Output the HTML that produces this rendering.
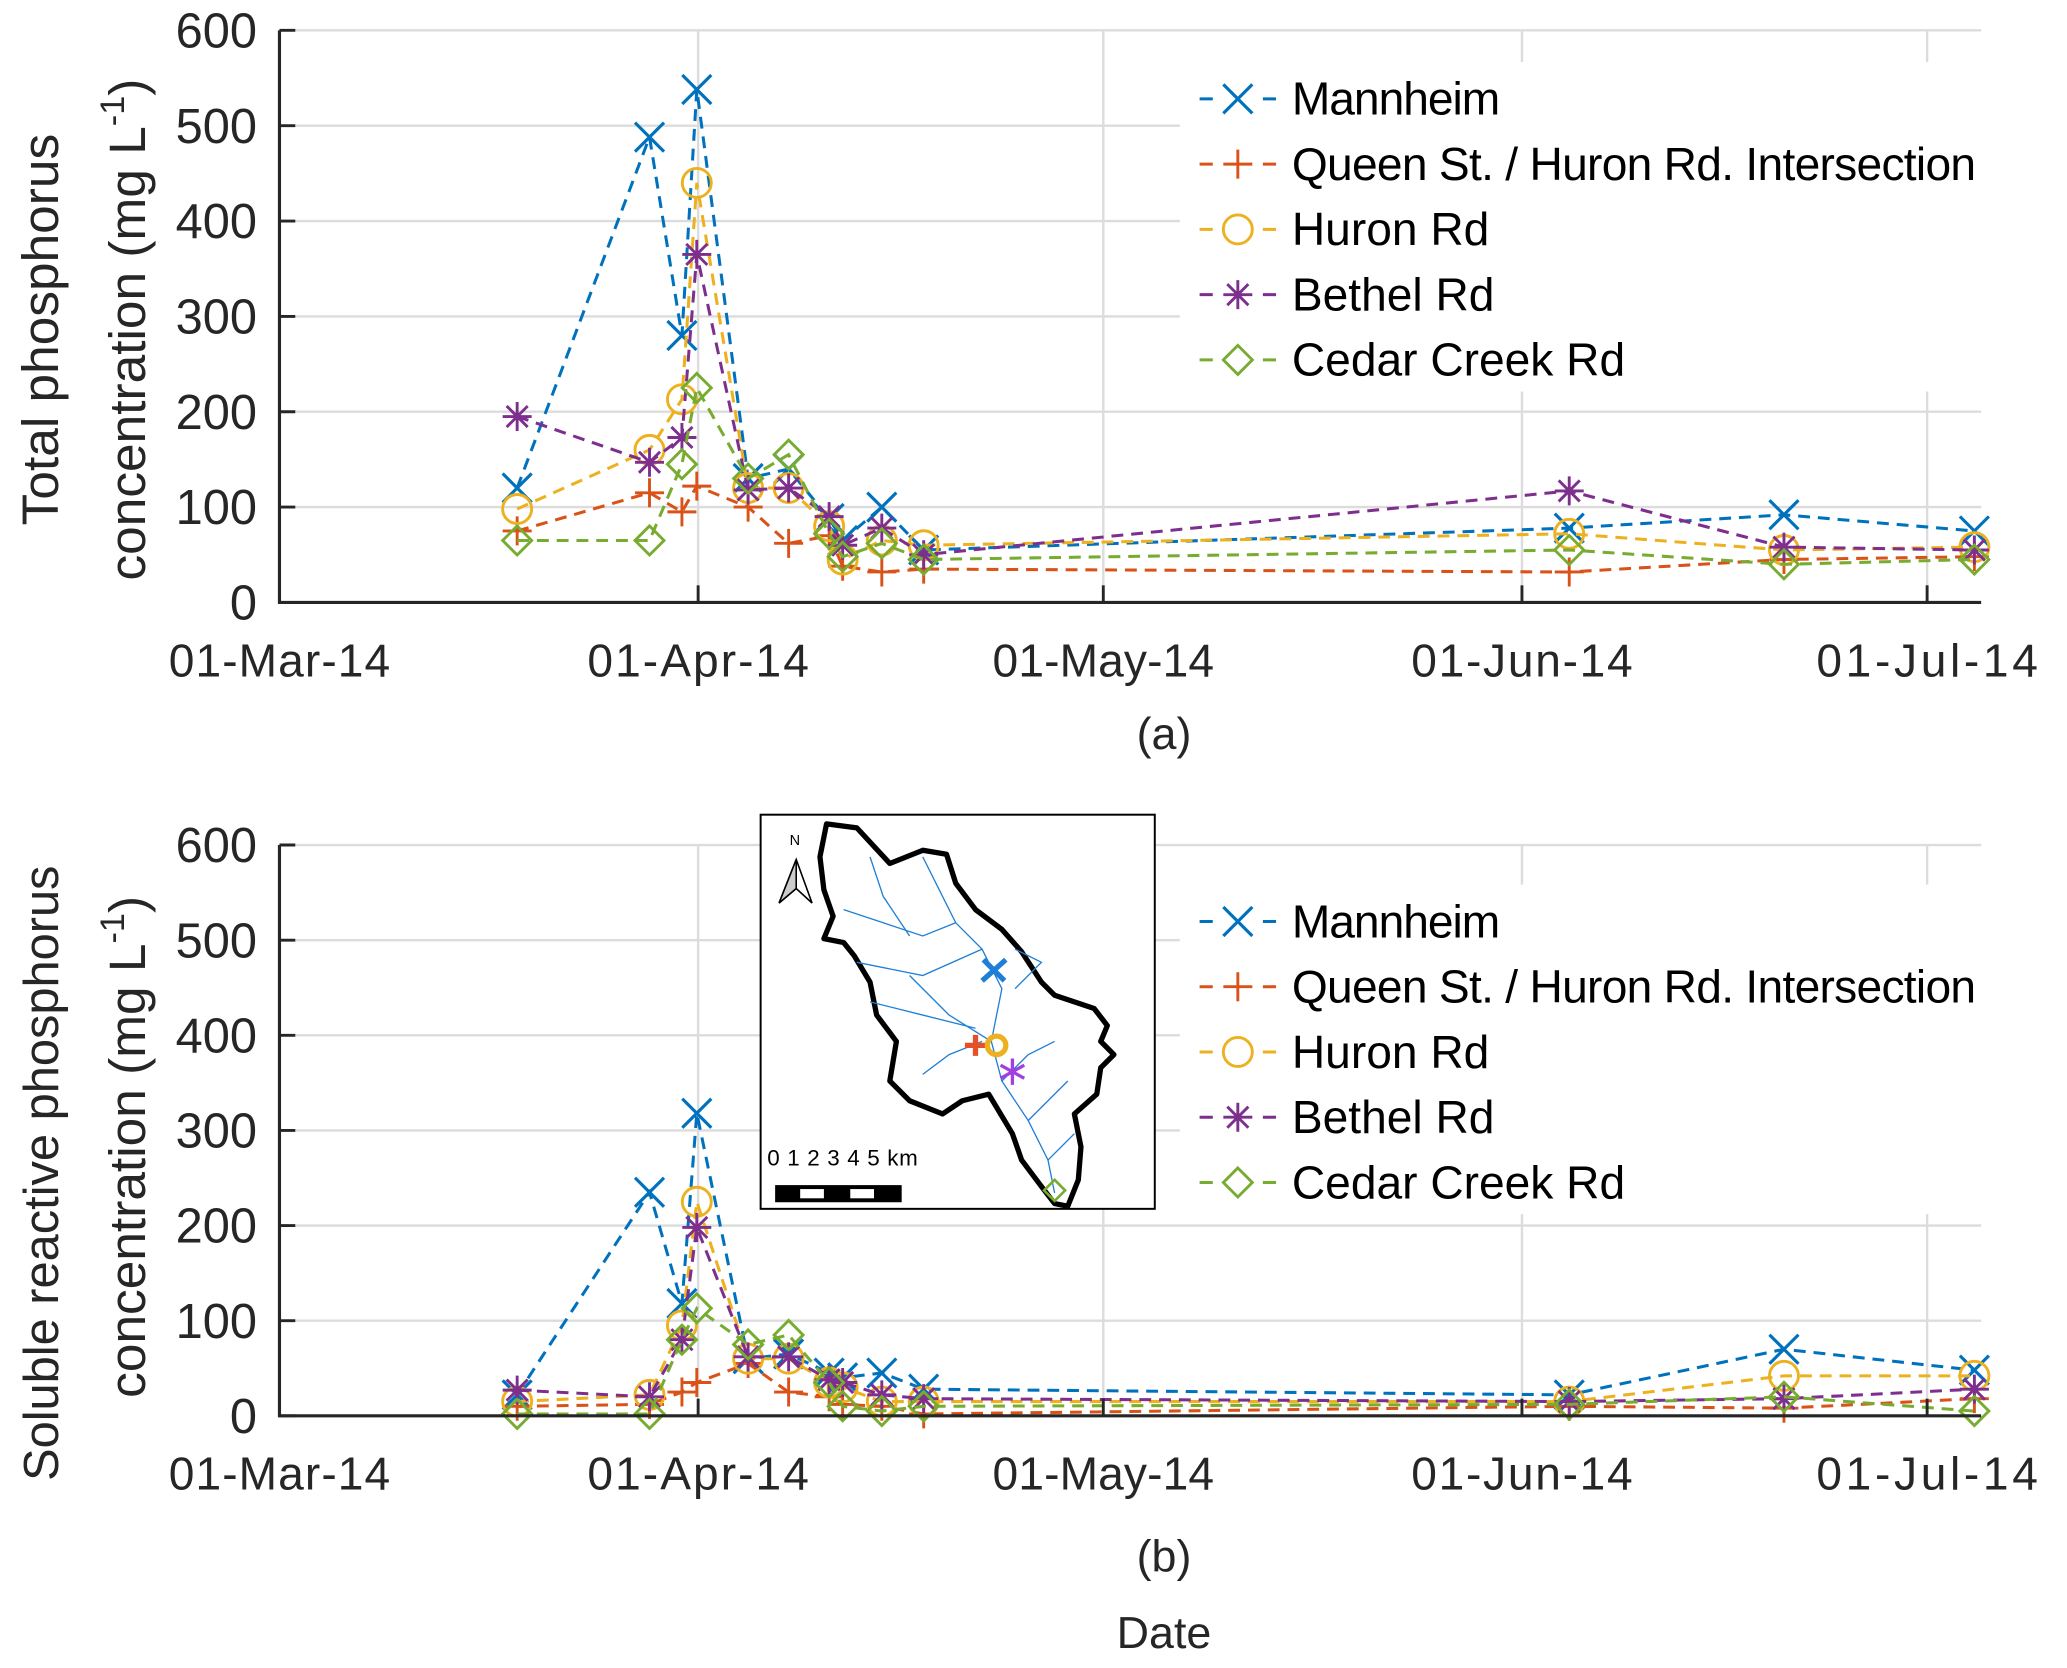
<!DOCTYPE html>
<html><head><meta charset="utf-8"><style>
html,body{margin:0;padding:0;background:#fff;}
svg{display:block;font-family:"Liberation Sans",Arial,sans-serif;}
</style></head><body>
<svg id="fig" width="2067" height="1668" viewBox="0 0 1568 1265.3" xmlns="http://www.w3.org/2000/svg">
<g id="pa"></g>
<g id="pb"></g>
<text x="883" y="568" font-size="34" text-anchor="middle" fill="#262626">(a)</text>
<text x="883" y="1192" font-size="34" text-anchor="middle" fill="#262626">(b)</text>
<text x="883" y="1250" font-size="34" text-anchor="middle" fill="#262626">Date</text>
<text transform="translate(44,250) rotate(-90)" font-size="39" text-anchor="middle" fill="#262626">Total phosphorus</text>
<text transform="translate(110,250) rotate(-90)" font-size="39" text-anchor="middle" fill="#262626">concentration (mg L<tspan dy="-16" font-size="26">-1</tspan><tspan dy="16">)</tspan></text>
<text transform="translate(44,890) rotate(-90)" font-size="37" text-anchor="middle" fill="#262626">Soluble reactive phosphorus</text>
<text transform="translate(110,870) rotate(-90)" font-size="39" text-anchor="middle" fill="#262626">concentration (mg L<tspan dy="-16" font-size="26">-1</tspan><tspan dy="16">)</tspan></text>
<g id="map">
<rect x="577" y="618" width="299" height="299" fill="#fff" stroke="#000" stroke-width="1.5"/>
<path d="M627,625 L650,628 L675,655 L700,645 L718,648 L725,670 L740,690 L760,705 L775,722 L790,745 L800,755 L830,765 L840,778 L835,790 L845,800 L835,810 L832,830 L815,845 L820,870 L818,895 L810,915 L800,913 L790,900 L775,880 L768,860 L750,830 L730,835 L715,845 L690,835 L675,820 L680,790 L665,770 L660,745 L648,725 L640,715 L625,712 L632,695 L625,675 L622,650 Z" fill="#fff" stroke="#000" stroke-width="4" stroke-linejoin="round"/>
<g stroke="#1f7fd6" stroke-width="1" fill="none">
<path d="M700,650 L725,700 L745,720 L760,750 L752,790 L760,820 L780,850 L795,880 L800,905"/>
<path d="M640,690 L670,700 L700,710 L725,700"/><path d="M650,730 L700,740 L745,720"/>
<path d="M690,740 L720,770 L752,790"/><path d="M660,760 L700,770 L740,780"/>
<path d="M745,790 L720,800 L700,815"/><path d="M760,820 L780,800 L800,790"/>
<path d="M780,850 L810,820"/><path d="M795,880 L815,860"/><path d="M660,650 L670,680 L690,710"/>
<path d="M770,750 L790,730 L770,720"/></g>
<text x="599" y="641" font-size="11">N</text>
<path d="M604,652 L591,685 L604,674 L616,685 Z" fill="#fff" stroke="#000" stroke-width="1.2"/>
<path d="M604,652 L591,685 L604,674 Z" fill="#ccc" stroke="#000" stroke-width="1.2"/>
<text x="582" y="884" font-size="17" letter-spacing="0.5">0 1 2 3 4 5 km</text>
<rect x="588" y="899" width="96" height="13" fill="#000"/>
<rect x="607" y="902" width="18" height="7" fill="#fff"/><rect x="645" y="902" width="18" height="7" fill="#fff"/>
<path d="M745,744 l18,-16 M746,728 l16,16" stroke="#1f7fd6" stroke-width="4"/>
<path d="M740,785 v16 M732,793 h17" stroke="#e5502a" stroke-width="4"/>
<circle cx="756" cy="793" r="7" fill="none" stroke="#EDB120" stroke-width="4"/>
<path d="M768,803 v20 M759,808 l18,10 M759,818 l18,-10" stroke="#a040e0" stroke-width="2.5"/>
<path d="M800,895 l8,8 l-8,8 l-8,-8 Z" fill="none" stroke="#77AC30" stroke-width="2"/>
</g>
</svg>
<script>
// dates as days since 01-Mar-2014
const sampleDays = [17.6, 27.4, 29.8, 30.9, 34.7, 37.7, 40.7, 41.7, 44.6, 47.7, 95.5, 111.4, 125.5];
const seriesNames = ["Mannheim", "Queen St. / Huron Rd. Intersection", "Huron Rd", "Bethel Rd", "Cedar Creek Rd"];
const tpMannheim = [120, 488, 280, 538, 130, 140, 88, 65, 100, 55, 78, 92, 75];
const tpQueen    = [75, 115, 95, 122, 100, 62, 70, 38, 32, 35, 32, 45, 48];
const tpHuron    = [98, 160, 213, 440, 120, 120, 80, 45, 65, 60, 72, 55, 58];
const tpBethel   = [195, 147, 173, 365, 118, 120, 90, 60, 78, 50, 117, 58, 55];
const tpCedar    = [65, 65, 145, 225, 130, 155, 72, 48, 62, 45, 55, 40, 45];
const srpMannheim = [22, 235, 118, 318, 60, 65, 45, 40, 45, 28, 22, 70, 48];
const srpQueen    = [10, 12, 25, 35, 55, 25, 20, 12, 10, 2, 10, 8, 18];
const srpHuron    = [15, 22, 95, 225, 60, 60, 35, 30, 15, 15, 15, 42, 42];
const srpBethel   = [27, 20, 80, 198, 62, 62, 38, 35, 22, 18, 15, 18, 28];
const srpCedar    = [2, 2, 80, 113, 75, 85, 35, 10, 5, 10, 12, 20, 5];
const xTickDays = [0, 31, 61, 92, 122];
const xTickLabels = ["01-Mar-14", "01-Apr-14", "01-May-14", "01-Jun-14", "01-Jul-14"];
const yTicks = [0, 100, 200, 300, 400, 500, 600];

const colors = ["#0072BD", "#D95319", "#EDB120", "#7E2F8E", "#77AC30"];
const markers = ["x", "+", "o", "*", "d"];
const NS = "http://www.w3.org/2000/svg";
const X0 = 212, XPX = 10.245, DMAX = 126;
function mk(tag, attrs, parent) { const e = document.createElementNS(NS, tag); for (const k in attrs) e.setAttribute(k, attrs[k]); parent.appendChild(e); return e; }

function marker(g, type, x, y, c) {
  const s = 11; let e;
  if (type === "x") e = mk("path", {d:`M${x-s},${y-s}L${x+s},${y+s}M${x-s},${y+s}L${x+s},${y-s}`, stroke:c, "stroke-width":2.4, fill:"none"}, g);
  else if (type === "+") e = mk("path", {d:`M${x-s},${y}L${x+s},${y}M${x},${y-s}L${x},${y+s}`, stroke:c, "stroke-width":2.2, fill:"none"}, g);
  else if (type === "o") e = mk("circle", {cx:x, cy:y, r:s, stroke:c, "stroke-width":2.2, fill:"none"}, g);
  else if (type === "*") e = mk("path", {d:`M${x-s},${y}L${x+s},${y}M${x},${y-s}L${x},${y+s}M${x-8},${y-8}L${x+8},${y+8}M${x-8},${y+8}L${x+8},${y-8}`, stroke:c, "stroke-width":2.2, fill:"none"}, g);
  else e = mk("path", {d:`M${x},${y-s}L${x+s},${y}L${x},${y+s}L${x-s},${y}Z`, stroke:c, "stroke-width":2.2, fill:"none"}, g);
  return e;
}

function panel(g, y0, y600, seriesList, legY, pfx) {
  const xs = d => X0 + d * XPX;
  const ys = v => y0 - (v / 600) * (y0 - y600);
  const xR = xs(DMAX);
  yTicks.forEach(v => { if (v > 0) { const l = mk("line", {x1:X0, x2:xR, y1:ys(v), y2:ys(v), stroke:"#dcdcdc", "stroke-width":1.8}, g);
    
     } });
  xTickDays.forEach(d => { if (d > 0) { const l = mk("line", {x1:xs(d), x2:xs(d), y1:y600, y2:y0, stroke:"#dcdcdc", "stroke-width":1.8}, g);
    
     } });
  seriesList.forEach((vals, i) => {
    const sg = mk("g", {}, g);
    
    
    const pts = vals.map((v, j) => xs(sampleDays[j]).toFixed(1) + "," + ys(v).toFixed(1)).join(" ");
    const pl = mk("polyline", {points:pts, fill:"none", stroke:colors[i], "stroke-width":2.3, "stroke-dasharray":"9,6"}, sg);
    
    
    vals.forEach((v, j) => {
      const m = marker(sg, markers[i], xs(sampleDays[j]), ys(v), colors[i]);
      
      
    });
  });
  const ax = mk("path", {d:`M${X0},${y600}L${X0},${y0}L${xR},${y0}`, stroke:"#262626", "stroke-width":2.4, fill:"none"}, g);
  
  
  yTicks.forEach(v => {
    mk("line", {x1:X0, x2:X0+12, y1:ys(v), y2:ys(v), stroke:"#262626", "stroke-width":2.2}, g);
    const t = mk("text", {x:X0-17, y:ys(v)+13, "font-size":37, "text-anchor":"end", fill:"#262626"}, g);
    t.textContent = v;
    
    
  });
  xTickDays.forEach((d, k) => {
    mk("line", {x1:xs(d), x2:xs(d), y1:y0, y2:y0-13, stroke:"#262626", "stroke-width":2.2}, g);
    const t = mk("text", {x:xs(d), y:y0+56, "font-size":35, "text-anchor":"middle", fill:"#262626", textLength:168}, g);
    t.textContent = xTickLabels[k];
    
    
  });
  const lg = mk("g", {}, g);
  
  
  mk("rect", {x:895, y:legY-28, width:612, height:250, fill:"#fff"}, lg);
  seriesNames.forEach((n, i) => {
    const y = legY + i * 49.5;
    const le = mk("g", {}, lg);
    
    
    mk("line", {x1:910, x2:968, y1:y, y2:y, stroke:colors[i], "stroke-width":2.3, "stroke-dasharray":"10,38"}, le);
    marker(le, markers[i], 939, y, colors[i]);
    const t = mk("text", {x:980, y:y+12, "font-size":35, fill:"#000"}, le);
    t.textContent = n;
    if (i === 1) t.setAttribute("textLength", 519);
    if (i === 0) t.setAttribute("textLength", 158);
  });
}
panel(document.getElementById("pa"), 457, 23, [tpMannheim, tpQueen, tpHuron, tpBethel, tpCedar], 75, "tp");
panel(document.getElementById("pb"), 1074, 641, [srpMannheim, srpQueen, srpHuron, srpBethel, srpCedar], 699, "srp");
document.getElementById("fig").appendChild(document.getElementById("map"));
</script>
</body></html>
